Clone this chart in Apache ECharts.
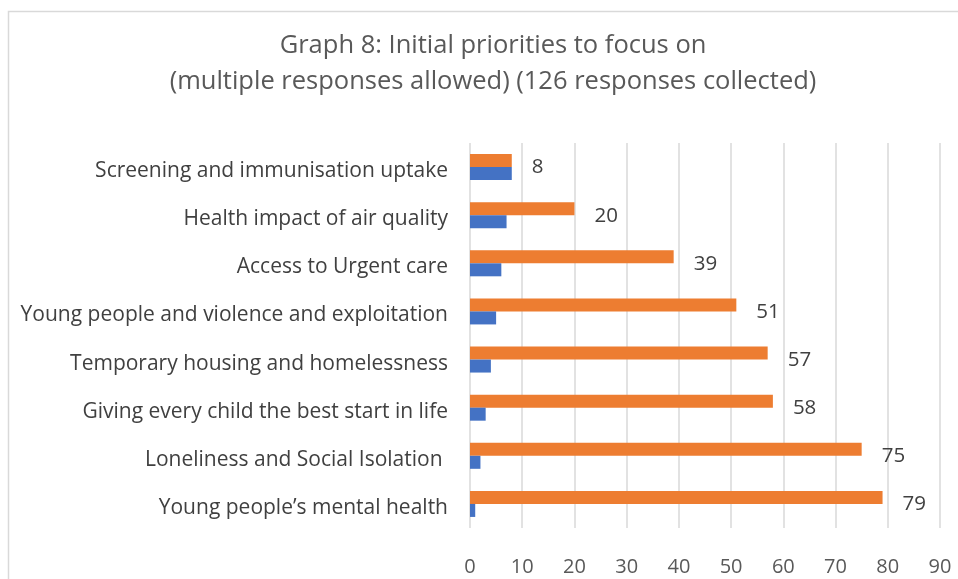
<!DOCTYPE html>
<html>
<head>
<meta charset="utf-8">
<script src="https://cdn.jsdelivr.net/npm/echarts@6/dist/echarts.min.js"></script>
<style>
  html, body { margin: 0; padding: 0; background: #fff; }
  #chart { width: 958px; height: 579px; }
</style>
</head>
<body>
<div id="chart"></div>
<script>
  // categories, bottom to top like the original
  var categories = [
    'Young people\u2019s mental health',
    'Loneliness and Social Isolation ',
    'Giving every child the best start in life',
    'Temporary housing and homelessness',
    'Young people and violence and exploitation',
    'Access to Urgent care',
    'Health impact of air quality',
    'Screening and immunisation uptake'
  ]
  var rankValues = [1, 2, 3, 4, 5, 6, 7, 8]
  var responseValues = [79, 75, 58, 57, 51, 39, 20, 8]
  var xTicks = { min: 0, max: 90, interval: 10 }

  var myChart = echarts.init(document.getElementById('chart'))
  var font = '"Open Sans", sans-serif'
  var option = {
    animation: false,
    title: {
      text: 'Graph 8: Initial priorities to focus on\n(multiple responses allowed) (126 responses collected)',
      left: 488,
      textAlign: 'center',
      top: 23,
      textStyle: {
        color: '#595959',
        fontFamily: font,
        fontWeight: 'normal',
        fontSize: 25.5,
        lineHeight: 36
      }
    },
    graphic: [{
      type: 'rect',
      shape: { x: 8.5, y: 11.5, width: 1200, height: 1200 },
      style: { fill: 'none', stroke: '#d9d9d9', lineWidth: 1.5 },
      silent: true
    }],
    grid: {
      left: 470,
      right: 18,
      top: 143,
      bottom: 51
    },
    xAxis: {
      type: 'value',
      min: xTicks.min,
      max: xTicks.max,
      interval: xTicks.interval,
      axisLine: { show: false },
      axisTick: { show: false },
      splitLine: {
        show: true,
        lineStyle: { color: '#d9d9d9', width: 1.5 }
      },
      axisLabel: {
        color: '#595959',
        fontFamily: font,
        fontSize: 20,
        margin: 29
      }
    },
    yAxis: {
      type: 'category',
      data: categories,
      axisLine: { show: false },
      axisTick: { show: false },
      axisLabel: {
        color: '#404040',
        fontFamily: font,
        fontSize: 21,
        margin: 22,
        verticalAlign: 'top',
        lineHeight: 8
      }
    },
    series: [
      {
        name: 'responses',
        type: 'bar',
        data: responseValues,
        barGap: '0%',
        barCategoryGap: '46%',
        itemStyle: { color: '#ED7D31' },
        label: {
          show: true,
          position: 'right',
          distance: 20,
          offset: [0, 7],
          color: '#404040',
          fontFamily: font,
          fontSize: 20.5
        }
      },
      {
        name: 'rank',
        type: 'bar',
        data: rankValues,
        barGap: '0%',
        barCategoryGap: '46%',
        itemStyle: { color: '#4472C4' }
      }
    ]
  }
  myChart.setOption(option)
</script>
</body>
</html>
